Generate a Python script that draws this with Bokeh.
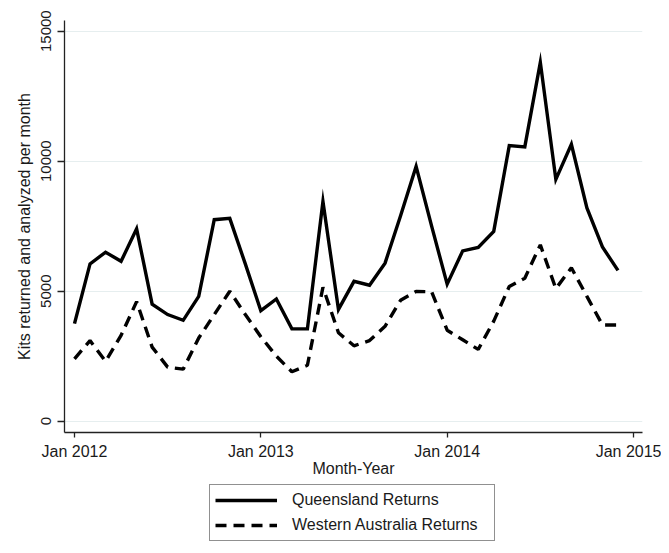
from bokeh.plotting import figure
from bokeh.layouts import column
from bokeh.models import FixedTicker, Legend, LegendItem, Range1d
from bokeh.embed import file_html
from bokeh.resources import INLINE

# ---- data (monthly, Jan 2012 .. Dec 2014) ----
months = list(range(36))
qld = [3750, 6050, 6500, 6150, 7400, 4500, 4100, 3880, 4800, 7750, 7800, 6050,
       4250, 4700, 3550, 3550, 8450, 4300, 5380, 5230, 6080, 7900, 9800, 7500,
       5270, 6550, 6680, 7300, 10600, 10550, 13800, 9300, 10650, 8200, 6700, 5800]
wa = [2400, 3100, 2300, 3300, 4600, 2850, 2080, 2000, 3200, 4100, 5000, 4100,
      3250, 2500, 1900, 2150, 5150, 3400, 2900, 3100, 3650, 4650, 4990, 4980,
      3500, 3130, 2760, 3850, 5180, 5500, 6780, 5100, 5900, 4800, 3700, 3700]
x_ticks = [0, 12, 24, 36]
x_tick_labels = ["Jan 2012", "Jan 2013", "Jan 2014", "Jan 2015"]
y_ticks = [0, 5000, 10000, 15000]
series_names = ["Queensland Returns", "Western Australia Returns"]

FONT = "Liberation Sans"
TXT = "#1a1a1a"
QLD_STYLE = dict(line_color="black", line_width=3.4, line_join="miter")
WA_STYLE = dict(line_color="black", line_width=3.4, line_dash="11 7")

# ---- main chart ----
p = figure(width=661, height=484, output_backend="svg", toolbar_location=None,
           x_range=Range1d(-0.644, 36.58), y_range=Range1d(-435, 15411),
           min_border_left=64, min_border_right=19, min_border_top=20,
           min_border_bottom=52, outline_line_color=None,
           background_fill_color="white", border_fill_color="white")

p.line(months, qld, **QLD_STYLE)
p.line(months, wa, **WA_STYLE)

p.xaxis.ticker = FixedTicker(ticks=x_ticks)
p.xaxis.major_label_overrides = {t: l for t, l in zip(x_ticks, x_tick_labels)}
p.yaxis.ticker = FixedTicker(ticks=y_ticks)
p.yaxis.major_label_orientation = "parallel"
p.xaxis.axis_label = "Month-Year"
p.yaxis.axis_label = "Kits returned and analyzed per month"

for ax in (p.xaxis[0], p.yaxis[0]):
    ax.axis_line_color = "#222222"
    ax.axis_line_width = 1.3
    ax.major_tick_line_color = "#222222"
    ax.major_tick_line_width = 1.3
    ax.major_tick_in = 0
    ax.minor_tick_line_color = None
    ax.major_label_text_font = FONT
    ax.major_label_text_color = TXT
    ax.axis_label_text_font = FONT
    ax.axis_label_text_font_style = "normal"
    ax.axis_label_text_color = TXT
    ax.axis_label_text_font_size = "16px"

p.xaxis.major_tick_out = 5
p.yaxis.major_tick_out = 7
p.xaxis.major_label_text_font_size = "16px"
p.yaxis.major_label_text_font_size = "15px"
p.xaxis.major_label_standoff = 5
p.yaxis.major_label_standoff = 6
p.xaxis.axis_label_standoff = -3
p.yaxis.axis_label_standoff = 6

p.xgrid.grid_line_color = None
p.ygrid.grid_line_color = "#e6eeef"
p.ygrid.grid_line_width = 1.2

# ---- legend strip (same series, drawn out of view so only the key shows) ----
leg = figure(width=661, height=66, output_backend="svg", toolbar_location=None,
             x_range=Range1d(-0.644, 36.58), y_range=Range1d(-90000, -80000),
             x_axis_location=None, y_axis_location=None,
             min_border_left=0, min_border_right=0, min_border_top=0,
             min_border_bottom=0, outline_line_color=None,
             background_fill_color="white", border_fill_color="white")
leg.xgrid.grid_line_color = None
leg.ygrid.grid_line_color = None
l1 = leg.line(months, qld, **QLD_STYLE)
l2 = leg.line(months, wa, **WA_STYLE)

legend = Legend(items=[LegendItem(label=series_names[0], renderers=[l1]),
                       LegendItem(label=series_names[1], renderers=[l2])],
                location=(145, 9), orientation="vertical",
                border_line_color="#222222", border_line_width=1.2,
                background_fill_color="white", background_fill_alpha=1.0,
                label_text_font=FONT, label_text_font_size="16px",
                label_text_color=TXT,
                glyph_width=62, glyph_height=20, label_height=20,
                label_standoff=15, label_width=197, spacing=5, padding=5,
                margin=0)
leg.add_layout(legend, "center")

layout = column(p, leg, spacing=0)
open("out.html", "w").write(file_html(layout, INLINE))
